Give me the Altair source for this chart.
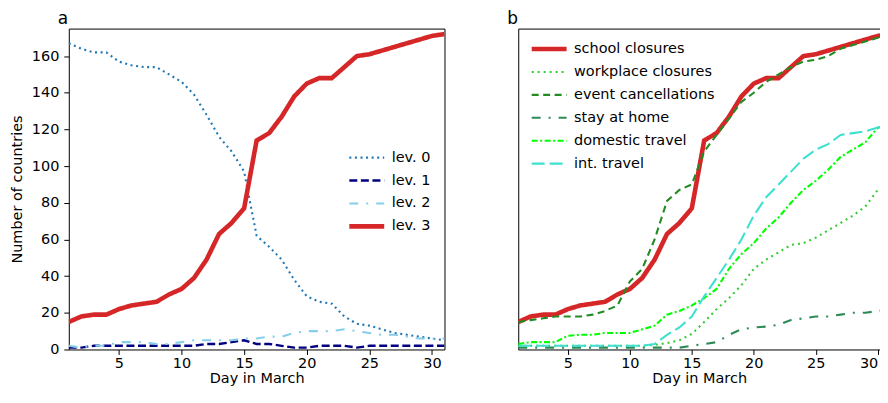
import altair as alt
import pandas as pd

days = list(range(1, 32))

# Panel a: number of countries per school-closure level
levels = ["lev. 0", "lev. 1", "lev. 2", "lev. 3"]
lev0 = [167, 164, 162, 162, 157, 155, 154, 154, 150, 146, 139, 128, 116, 108, 97, 62,
        56, 49, 38, 29, 26, 25, 18, 14, 13, 11, 9, 8, 7, 6, 5]
lev1 = [1, 1, 2, 2, 2, 2, 2, 2, 2, 2, 2, 3, 3, 4, 5, 3, 3, 2, 1, 1, 2, 2, 2, 1, 2, 2,
        2, 2, 2, 2, 2]
lev2 = [2, 1, 2, 2, 4, 4, 4, 3, 3, 4, 5, 5, 5, 5, 6, 6, 7, 7, 9, 10, 10, 10, 11, 10, 9,
        8, 8, 7, 6, 6, 6]
lev3 = [15, 18, 19, 19, 22, 24, 25, 26, 30, 33, 39, 49, 63, 69, 77, 114, 118, 127, 138,
        145, 148, 148, 154, 160, 161, 163, 165, 167, 169, 171, 172]
level_colors = ["#1f77b4", "#000080", "#87ceeb", "#d62728"]
level_dashes = [[2, 3.6], [8, 3.6], [9, 8, 2, 8], [1, 0]]
level_widths = [2.1, 2.4, 2.1, 4.6]

# Panel b: number of countries with each measure
measures = ["school closures", "workplace closures", "event cancellations",
            "stay at home", "domestic travel", "int. travel"]
school = lev3
workplace = [2, 2, 2, 2, 2, 2, 2, 2, 2, 2, 2, 2.5, 3.5, 5, 8.5, 15, 22, 28, 35, 44, 49,
             53, 57, 58, 61, 65, 69, 73, 78, 87, 90]
event = [15, 16, 17, 18, 18, 18, 19, 21, 24, 37, 44, 60, 81, 87, 90, 108, 117, 126, 135,
         140, 146, 150, 154, 157, 158, 160, 164, 166, 168, 170, 170]
stay = [1, 1, 1, 1, 1, 1, 1, 1, 1, 1, 1, 1, 1, 1, 2, 3, 4, 8, 11, 12, 12.5, 13.5, 16, 17,
        18, 18, 19, 20, 20, 21, 22]
domestic = [3, 4, 4, 4, 7.5, 8, 8, 9, 9, 9, 11, 13, 19, 21, 24, 28, 33, 44, 52, 58, 66,
            72, 80, 87, 92, 98, 105, 109, 113, 121, 122]
intl = [2, 2, 2, 2, 2, 2, 2, 2, 2, 2, 2, 3, 8, 12, 18, 29, 39, 49, 60, 73, 83, 90, 97,
        104, 109, 112, 117, 118, 119, 121, 122]
measure_colors = ["#d62728", "#32cd32", "#228b22", "#2e8b57", "#00ff00", "#40e0d0"]
measure_dashes = [[1, 0], [2, 4], [7, 4.5], [9, 8, 2, 8], [6, 2.5, 2, 2.5], [13, 5]]
measure_widths = [4.6, 2.1, 2.1, 2.1, 2.1, 2.1]

x_ticks = [5, 10, 15, 20, 25, 30]
y_ticks = [0, 20, 40, 60, 80, 100, 120, 140, 160]
FONT = "DejaVu Sans"
FS = 14.5


def long_df(names, series):
    rows = []
    for i, (n, s) in enumerate(zip(names, series)):
        for d, v in zip(days, s):
            rows.append({"day": d, "value": v, "series": n, "k": i})
    return pd.DataFrame(rows)


df_a = long_df(levels, [lev0, lev1, lev2, lev3])
df_b = long_df(measures, [school, workplace, event, stay, domestic, intl])

axis_common = dict(grid=False, tickSize=5, tickColor="black", tickWidth=1,
                   labelColor="black", titleColor="black", labelFont=FONT,
                   titleFont=FONT, labelFontSize=FS, titleFontSize=FS,
                   titleFontWeight="normal", domainColor="black", domainWidth=1)


def legend(x, y):
    return alt.Legend(orient="none", legendX=x, legendY=y, title=None,
                      symbolType="stroke", symbolSize=1225, labelOffset=5,
                      clipHeight=23, rowPadding=0, labelFontSize=FS,
                      labelFont=FONT, labelColor="black", padding=0)


def enc_series(names, colors, dashes, widths, leg):
    return dict(
        color=alt.Color("series:N", scale=alt.Scale(domain=names, range=colors),
                        legend=leg),
        strokeDash=alt.StrokeDash("series:N",
                                  scale=alt.Scale(domain=names, range=dashes),
                                  legend=leg),
        strokeWidth=alt.StrokeWidth("series:N",
                                    scale=alt.Scale(type="ordinal", domain=names,
                                                    range=widths),
                                    legend=leg),
        order=alt.Order("k:Q"),
    )


def title(t):
    return alt.TitleParams(t, anchor="start", frame="group", dx=-11, fontSize=17,
                           fontWeight="normal", font=FONT, color="black", offset=1)


W_A, H = 377, 322
PX_PER_DAY_B = 12.44
W_B = 363
XMAX_B = 1 + W_B / PX_PER_DAY_B

lines_a = alt.Chart(df_a).mark_line(clip=True, strokeCap="butt").encode(
    x=alt.X("day:Q", scale=alt.Scale(domain=[1, 31], nice=False, zero=False),
            axis=alt.Axis(values=x_ticks, title="Day in March", domain=False,
                          labelPadding=2, titlePadding=2, **axis_common)),
    y=alt.Y("value:Q", scale=alt.Scale(domain=[0, 175], nice=False),
            axis=alt.Axis(values=y_ticks, title="Number of countries", domain=False,
                          labelPadding=5, titlePadding=7, **axis_common)),
    **enc_series(levels, level_colors, level_dashes, level_widths,
                 legend(279, 118)),
).properties(
    width=W_A, height=H, title=title("a"),
    view=alt.ViewBackground(stroke="black", strokeWidth=1),
)

lines_b = alt.Chart(df_b).mark_line(clip=True, strokeCap="butt").encode(
    x=alt.X("day:Q", scale=alt.Scale(domain=[1, XMAX_B], nice=False, zero=False),
            axis=alt.Axis(values=x_ticks, title="Day in March", domain=True,
                          labelPadding=2, titlePadding=2, labelFlush=9,
                          **axis_common)),
    y=alt.Y("value:Q", scale=alt.Scale(domain=[0, 175], nice=False),
            axis=alt.Axis(title=None, labels=False, ticks=False, domain=True,
                          grid=False, domainColor="black", domainWidth=1)),
    **enc_series(measures, measure_colors, measure_dashes, measure_widths,
                 legend(11, 9)),
)
top_b = alt.Chart(df_b[df_b["day"] <= 30]).mark_point(opacity=0, size=1, clip=True).encode(
    x=alt.X("day:Q", axis=alt.Axis(orient="top", labels=False, ticks=False,
                                   domain=True, grid=False, title=None,
                                   domainColor="black", domainWidth=1)),
    y=alt.Y("value:Q"),
)
panel_b = alt.layer(lines_b, top_b).resolve_axis(x="independent").properties(
    width=W_B, height=H, title=title("b"),
    view=alt.ViewBackground(stroke=None),
)

chart = alt.hconcat(lines_a, panel_b, spacing=62).resolve_scale(
    color="independent", strokeDash="independent", strokeWidth="independent"
).resolve_legend(
    color="independent", strokeDash="independent", strokeWidth="independent"
).properties(
    padding={"left": 0, "top": 0, "right": 0, "bottom": 0},
    background="white",
)

chart.save("out.html", embed_options={"renderer": "svg", "actions": False})
